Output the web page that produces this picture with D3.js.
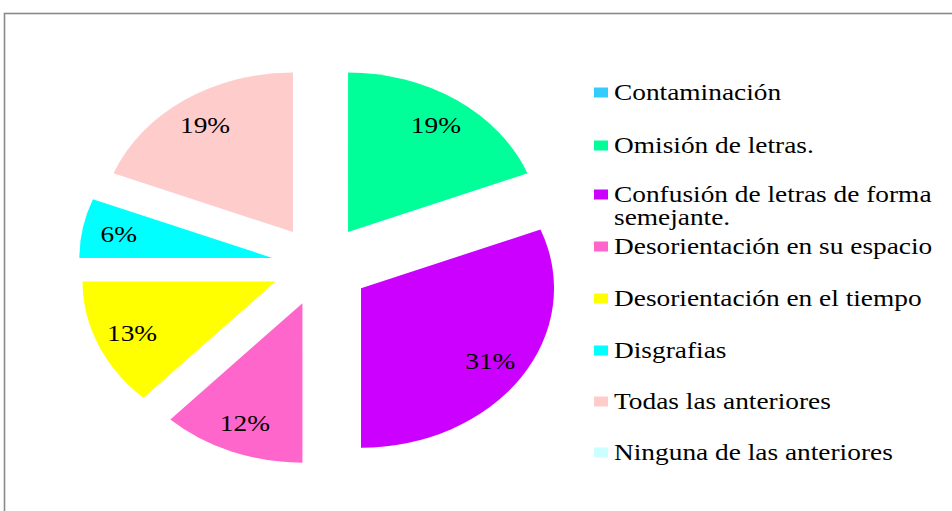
<!DOCTYPE html>
<html>
<head>
<meta charset="utf-8">
<script src="https://cdn.jsdelivr.net/npm/d3@7"></script>
<style>
  html, body { margin: 0; padding: 0; background: #fff; }
  svg { display: block; }
  svg text { font-family: "Liberation Serif", "DejaVu Serif", serif; }
</style>
</head>
<body>
<svg id="chart" width="952" height="511"></svg>
<script>
// Categories of reading/writing difficulties and their share (%)
const categories = [
  "Contaminación",
  "Omisión de letras.",
  "Confusión de letras de forma semejante.",
  "Desorientación en su espacio",
  "Desorientación en el tiempo",
  "Disgrafias",
  "Todas las anteriores",
  "Ninguna de las anteriores"
];
const values = [0, 19, 31, 12, 13, 6, 19, 0];
const colors = ["#33CCFF", "#00FF99", "#CC00FF", "#FF66CC", "#FFFF00", "#00FFFF", "#FFCCCC", "#CCFFFF"];
// legend text lines (long entry wraps onto two lines)
const legendLines = [
  ["Contaminación"],
  ["Omisión de letras."],
  ["Confusión de letras de forma", "semejante."],
  ["Desorientación en su espacio"],
  ["Desorientación en el tiempo"],
  ["Disgrafias"],
  ["Todas las anteriores"],
  ["Ninguna de las anteriores"]
];

const svg = d3.select("#chart");
const stretch = 1.19;   // horizontal stretch of the whole drawing

// outer frame (open to the right and bottom)
svg.append("rect")
  .attr("x", 4.5).attr("y", 13.5)
  .attr("width", 1000).attr("height", 600)
  .attr("fill", "none")
  .attr("stroke", "#8a8a8a")
  .attr("stroke-width", 1.6);

// ---- exploded pie (drawn as an ellipse) ----
const cx = 320.5, cy = 265.5;
const rx = 193, ry = 159.5;
const explode = 49;          // offset of each slice in radius units
const sy = ry / rx;

const pie = d3.pie().sort(null).value(d => d.v);
const arcs = pie(values.map((v, i) => ({ v, i })));
const arc = d3.arc().innerRadius(0).outerRadius(rx);

const pieG = svg.append("g")
  .attr("transform", `translate(${cx},${cy}) scale(1,${sy})`);

const shown = arcs.filter(a => a.data.v > 0);

pieG.selectAll("path.slice")
  .data(shown)
  .join("path")
  .attr("class", "slice")
  .attr("fill", d => colors[d.data.i])
  .attr("transform", d => {
    const m = (d.startAngle + d.endAngle) / 2;
    return `translate(${explode * Math.sin(m)},${-explode * Math.cos(m)})`;
  })
  .attr("d", arc);

// percentage labels, placed inside each slice
svg.append("g").selectAll("text.pct")
  .data(shown)
  .join("text")
  .attr("class", "pct")
  .attr("transform", d => {
    const m = (d.startAngle + d.endAngle) / 2;
    const r = explode + 0.81 * rx;
    const x = cx + r * Math.sin(m);
    const y = cy - r * Math.cos(m) * sy;
    return `translate(${x},${y}) scale(${stretch},1)`;
  })
  .attr("text-anchor", "middle")
  .attr("dy", "0.35em")
  .attr("font-size", 23)
  .attr("fill", "#000")
  .text(d => d3.format(".0%")(d.data.v / d3.sum(values)));

// ---- legend ----
const legendY = [92, 145, 194, 246, 298, 350, 401, 452];
const lineH = 23;
const legend = svg.append("g");
const items = legend.selectAll("g.item")
  .data(categories.map((c, i) => ({ c, i })))
  .join("g")
  .attr("class", "item")
  .attr("transform", d => `translate(0,${legendY[d.i]})`);

items.append("rect")
  .attr("x", 594).attr("y", -4.5)
  .attr("width", 14).attr("height", 10)
  .attr("fill", d => colors[d.i]);

items.each(function(d) {
  const g = d3.select(this);
  legendLines[d.i].forEach((line, k) => {
    g.append("text")
      .attr("transform", `translate(614,${k * lineH}) scale(${stretch},1)`)
      .attr("dy", "0.35em")
      .attr("font-size", 23)
      .attr("fill", "#000")
      .text(line);
  });
});
</script>
</body>
</html>
